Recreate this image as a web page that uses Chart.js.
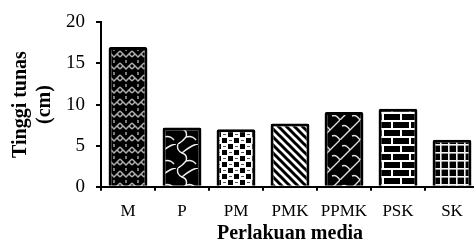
<!DOCTYPE html>
<html>
<head>
<meta charset="utf-8">
<script src="https://cdn.jsdelivr.net/npm/chart.js@4.4.1/dist/chart.umd.min.js"></script>
<style>
  html, body { margin: 0; padding: 0; background: #fff; overflow: hidden; }
  #wrap { width: 500px; height: 251px; }
</style>
</head>
<body>
<div id="wrap"><canvas id="chart" width="500" height="251"></canvas></div>
<script>
// Data
const categories = ['M', 'P', 'PM', 'PMK', 'PPMK', 'PSK', 'SK'];
const heights = [17.0, 7.2, 7.0, 7.7, 9.1, 9.5, 5.7];
const yTicks = [0, 5, 10, 15, 20];

const serif = "'Liberation Serif', 'Times New Roman', serif";

// Pattern helpers
function tile(w, h, bg, draw) {
    const c = document.createElement('canvas');
    c.width = w; c.height = h;
    const g = c.getContext('2d');
    g.fillStyle = bg;
    g.fillRect(0, 0, w, h);
    draw(g);
    return document.createElement('canvas').getContext('2d').createPattern(c, 'repeat');
}

function line(g, pts, color, w) {
    g.strokeStyle = color;
    g.lineWidth = w;
    g.beginPath();
    g.moveTo(pts[0][0], pts[0][1]);
    for (let i = 1; i < pts.length; i++) g.lineTo(pts[i][0], pts[i][1]);
    g.stroke();
}

const patterns = [
    // M: woven chain
    tile(12, 12, '#000', g => {
        line(g, [[0, 3], [6, 9], [12, 3]], '#b0b0b0', 1.5);
        line(g, [[0, 9], [3, 6]], '#b0b0b0', 1.5);
        line(g, [[12, 9], [9, 6]], '#b0b0b0', 1.5);
        line(g, [[6, 0], [6, 3]], '#d0d0d0', 1.2);
    }),
    // P: irregular white veins
    tile(22, 24, '#000', g => {
        g.strokeStyle = '#eee'; g.lineWidth = 1.4;
        g.beginPath();
        g.moveTo(2, 0); g.quadraticCurveTo(0, 6, 6, 9); g.quadraticCurveTo(12, 11, 10, 17);
        g.quadraticCurveTo(6, 22, 2, 24);
        g.moveTo(10, 17); g.quadraticCurveTo(16, 15, 20, 20);
        g.moveTo(6, 9); g.quadraticCurveTo(12, 4, 16, 2); g.quadraticCurveTo(20, 0, 22, 0);
        g.stroke();
    }),
    // PM: white with black squares
    tile(12, 12, '#fff', g => {
        g.fillStyle = '#000';
        g.fillRect(0, 0, 5, 5);
        g.fillRect(6, 6, 5, 5);
        g.fillStyle = '#555';
        g.fillRect(7, 2, 3, 1);
        g.fillRect(1, 8, 3, 1);
    }),
    // PMK: diagonal stripes
    tile(8, 8, '#fff', g => {
        g.strokeStyle = '#000'; g.lineWidth = 3;
        g.beginPath();
        g.moveTo(-2, -2); g.lineTo(10, 10);
        g.moveTo(-6, 2); g.lineTo(2, 10);
        g.moveTo(6, -2); g.lineTo(14, 6);
        g.stroke();
    }),
    // PPMK: diagonal curls
    tile(20, 20, '#000', g => {
        g.strokeStyle = '#ddd'; g.lineWidth = 1.4;
        g.beginPath();
        g.moveTo(0, 20); g.lineTo(20, 0);
        g.moveTo(10, 10); g.quadraticCurveTo(6, 4, 2, 6);
        g.moveTo(20, 20); g.quadraticCurveTo(16, 14, 12, 16);
        g.stroke();
    }),
    // PSK: bricks
    tile(18, 16, '#000', g => {
        g.fillStyle = '#fff';
        g.fillRect(0, 0, 18, 2);
        g.fillRect(0, 8, 18, 2);
        g.fillRect(4, 0, 2, 8);
        g.fillRect(13, 8, 2, 8);
    }),
    // SK: grid
    tile(8, 8, '#000', g => {
        g.fillStyle = '#f2f2f2';
        g.fillRect(0, 0, 8, 1.6);
        g.fillRect(0, 0, 1.6, 8);
    })
];

new Chart(document.getElementById('chart'), {
    type: 'bar',
    data: {
        labels: categories,
        datasets: [{
            data: heights,
            backgroundColor: patterns,
            borderColor: '#000',
            borderWidth: 3,
            borderRadius: 2,
            borderSkipped: 'bottom',
            categoryPercentage: 1,
            barPercentage: 0.72
        }]
    },
    options: {
        responsive: false,
        animation: false,
        layout: { padding: { top: 20.7, right: 21, left: 0, bottom: 0 } },
        plugins: { legend: { display: false }, tooltip: { enabled: false } },
        scales: {
            x: {
                afterFit: s => { s.height = 64.3; },
                grid: {
                    display: true, drawOnChartArea: false, offset: true,
                    color: '#000', lineWidth: 2, tickLength: 4
                },
                border: { color: '#000', width: 2 },
                ticks: { color: '#000', font: { family: serif, size: 17 }, padding: 11 },
                title: {
                    display: true, text: 'Perlakuan media', color: '#000',
                    font: { family: serif, size: 20, weight: 'bold' }, padding: { top: 2, bottom: 5 }
                }
            },
            y: {
                min: 0, max: 20,
                afterFit: s => { s.width = 101; },
                afterBuildTicks: s => { s.ticks = yTicks.map(v => ({ value: v })); },
                grid: {
                    display: true, drawOnChartArea: false,
                    color: '#000', lineWidth: 2, tickLength: 5
                },
                border: { color: '#000', width: 2 },
                ticks: { color: '#000', font: { family: serif, size: 19 }, padding: 11 },
                title: {
                    display: true, text: ['Tinggi tunas', '(cm)'], color: '#000',
                    font: { family: serif, size: 20, weight: 'bold', lineHeight: 1.2 },
                    padding: { top: 9, bottom: 4 }
                }
            }
        }
    }
});
</script>
</body>
</html>
